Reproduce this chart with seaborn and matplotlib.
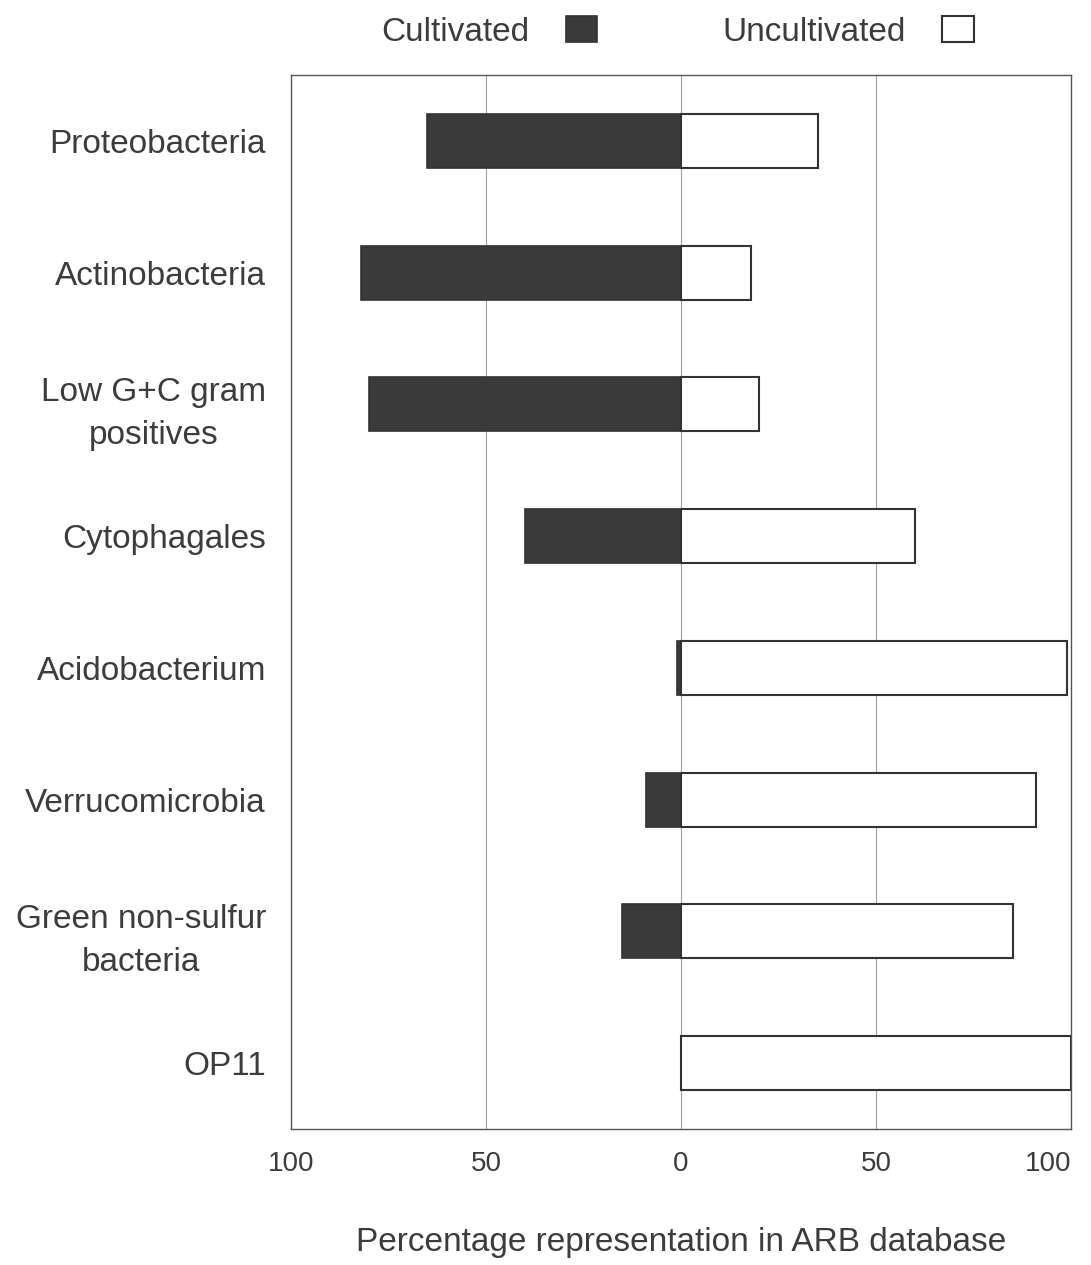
import seaborn as sns
import matplotlib.pyplot as plt
import pandas as pd

groups = ["Proteobacteria", "Actinobacteria", "Low G+C gram\npositives", "Cytophagales",
          "Acidobacterium", "Verrucomicrobia", "Green non-sulfur\nbacteria", "OP11"]
cultivated = [65, 82, 80, 40, 1, 9, 15, 0]
uncultivated = [35, 18, 20, 60, 99, 91, 85, 100]
tick_vals = [-100, -50, 0, 50, 100]
tick_text = ["100", "50", "0", "50", "100"]

df = pd.DataFrame({"group": groups,
                   "cult": [-v for v in cultivated],
                   "uncult": uncultivated})

sns.set_style("white")
plt.rcParams["font.family"] = ["Liberation Sans", "DejaVu Sans"]
txt = "#3c3c3c"

fig = plt.figure(figsize=(10.91, 12.65), dpi=100)
ax = fig.add_axes([0.2667, 0.1075, 0.715, 0.8332])

# grid lines first so bars sit on top
for v in [-50, 0, 50]:
    ax.axvline(v, color="#a0a0a0", lw=0.8, zorder=0)

sns.barplot(data=df, x="cult", y="group", orient="h", color="#3a3a3a",
            edgecolor="#333333", linewidth=1.2, width=0.41, saturation=1,
            ax=ax, label="Cultivated")
sns.barplot(data=df, x="uncult", y="group", orient="h", color="white",
            edgecolor="#333333", linewidth=1.5, width=0.41, saturation=1,
            ax=ax, label="Uncultivated")

ax.set_xlim(-100, 100)
ax.set_ylim(7.5, -0.5)
ax.set_xticks(tick_vals)
ax.set_xticklabels(tick_text)
ax.tick_params(axis="x", length=5, color="#777777", direction="in", labelsize=20,
               labelcolor=txt, pad=16)
ax.tick_params(axis="y", length=0, labelsize=24, labelcolor=txt, pad=18)
for lab in ax.get_yticklabels():
    lab.set_multialignment("center")
    lab.set_linespacing(1.5)
# keep the right-hand "100" inside the figure
ax.get_xticklabels()[-1].set_horizontalalignment("right")
ax.get_xticklabels()[-1].set_x(100)

for s in ax.spines.values():
    s.set_color("#555555")
    s.set_linewidth(1.0)

ax.set_ylabel("")
ax.set_xlabel("Percentage representation in ARB database", fontsize=24,
              color=txt, labelpad=36)

ax.legend(loc="center", bbox_to_anchor=(0.621, 0.975), bbox_transform=fig.transFigure,
          ncol=2, frameon=False, markerfirst=False, fontsize=24,
          handlelength=0.95, handleheight=0.85, columnspacing=3.75, handletextpad=1.1,
          labelcolor=txt)

fig.savefig("out.png", dpi=100)
